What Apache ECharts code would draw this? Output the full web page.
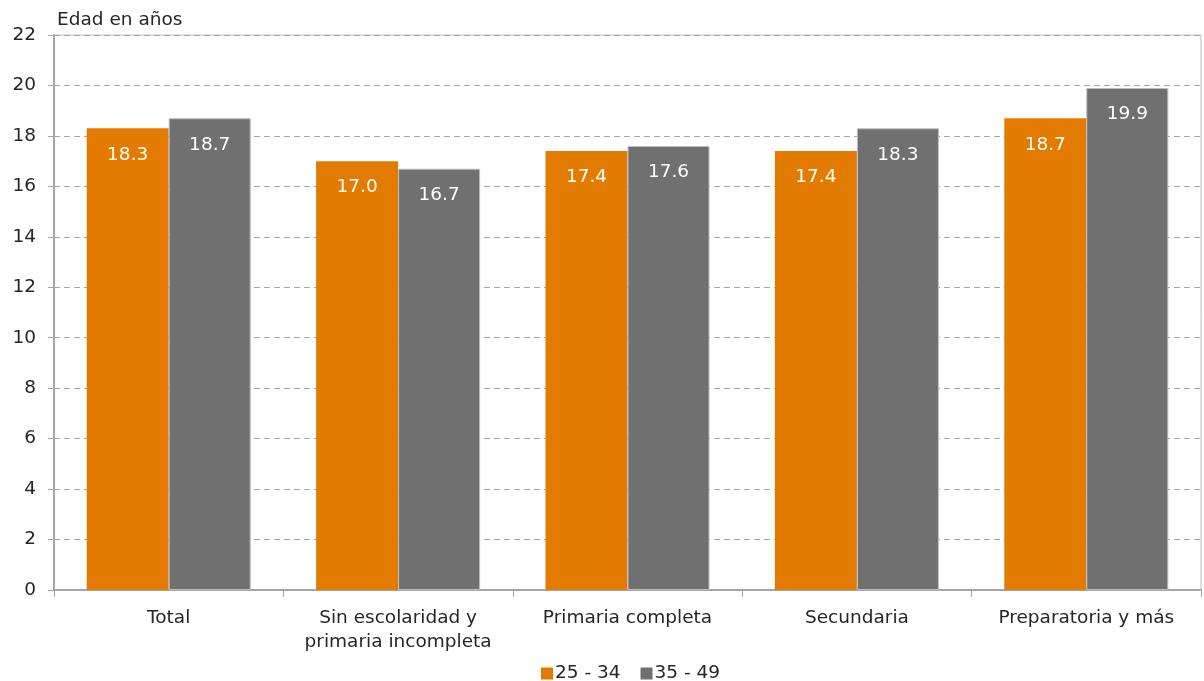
<!DOCTYPE html>
<html><head><meta charset="utf-8">
<script src="https://cdn.jsdelivr.net/npm/echarts@6/dist/echarts.min.js"></script>
<style>html,body{margin:0;padding:0;background:#fff}#c{width:1204px;height:681px}</style>
</head><body><div id="c"></div>
<script>
const categories = ['Total', 'Sin escolaridad y\nprimaria incompleta', 'Primaria completa', 'Secundaria', 'Preparatoria y más'];
const series2534 = [18.3, 17.0, 17.4, 17.4, 18.7];
const series3549 = [18.7, 16.7, 17.6, 18.3, 19.9];
const seriesNames = ['25 - 34', '35 - 49'];
const yTicks = {min: 0, max: 22, interval: 2};
const font = '"DejaVu Sans", "Open Sans", sans-serif';
const fs = 18.5;
const chart = echarts.init(document.getElementById('c'));
const lbl = {show: true, position: 'insideTop', distance: 17, color: '#fff', fontSize: fs, fontFamily: font, formatter: p => p.value.toFixed(1)};
chart.setOption({
  animation: false,
  textStyle: {fontFamily: font},
  title: {text: 'Edad en años', left: 52, top: 6, textStyle: {fontSize: fs, fontWeight: 'normal', color: '#262626', fontFamily: font}},
  grid: {left: 54, right: 3, top: 35, bottom: 91, show: true, borderColor: '#bfbfbf', borderWidth: 1, containLabel: false},
  legend: {top: 659, left: 536, itemWidth: 12, itemHeight: 12, itemGap: 20, icon: 'rect', itemStyle: {borderWidth: 0}, textStyle: {fontSize: fs, color: '#262626', fontFamily: font, padding: [0, 0, 0, -3]}, data: seriesNames},
  xAxis: {type: 'category', data: categories,
    axisLine: {lineStyle: {color: '#a6a6a6', width: 2}},
    axisTick: {show: true, length: 7, lineStyle: {color: '#a6a6a6'}},
    axisLabel: {interval: 0, fontSize: fs, color: '#262626', margin: 16, lineHeight: 24, fontFamily: font}},
  yAxis: {type: 'value', min: yTicks.min, max: yTicks.max, interval: yTicks.interval,
    axisLine: {show: true, lineStyle: {color: '#a6a6a6', width: 2}},
    axisTick: {show: true, length: 6, lineStyle: {color: '#a6a6a6'}},
    axisLabel: {fontSize: fs, color: '#262626', margin: 18, fontFamily: font},
    splitLine: {show: true, lineStyle: {type: [6, 4], color: '#a6a6a6', width: 1}}},
  series: [
    {name: seriesNames[0], type: 'bar', data: series2534, barGap: '0%', barCategoryGap: '28.5%', itemStyle: {color: '#E27B00'}, label: lbl},
    {name: seriesNames[1], type: 'bar', data: series3549, itemStyle: {color: '#707070', borderColor: '#bdbdbd', borderWidth: 1}, label: lbl}
  ]
});
</script></body></html>
